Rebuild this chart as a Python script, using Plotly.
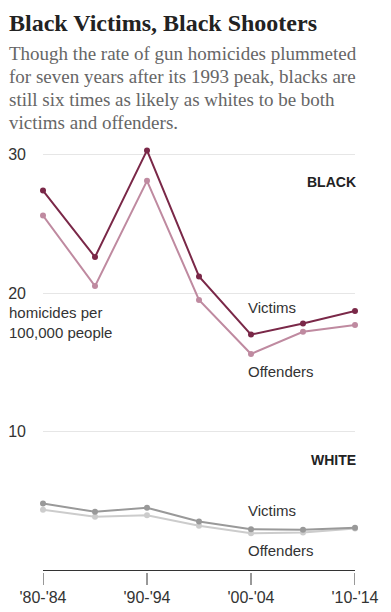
import plotly.graph_objects as go

periods = ["'80-'84", "'85-'89", "'90-'94", "'95-'99", "'00-'04", "'05-'09", "'10-'14"]
tick_labels = ["'80-'84", "'90-'94", "'00-'04", "'10-'14"]
tick_idx = [0, 2, 4, 6]

black_victims = [27.4, 22.6, 30.3, 21.2, 17.0, 17.8, 18.7]
black_offenders = [25.6, 20.5, 28.1, 19.5, 15.6, 17.2, 17.7]
white_victims = [4.8, 4.2, 4.5, 3.5, 2.95, 2.9, 3.05]
white_offenders = [4.35, 3.85, 3.95, 3.2, 2.65, 2.7, 3.0]

C_BV = "#7a2848"
C_BO = "#bf8aa0"
C_WV = "#999999"
C_WO = "#cccccc"

W, H = 391, 612
L, R, T, B = 43, 36, 140, 42
PW, PH = W - L - R, H - T - B

def px(xp):
    return (xp - L) / PW

def py(yp):
    return (H - B - yp) / PH

x = list(range(len(periods)))

fig = go.Figure()
for vals, col in [(white_offenders, C_WO), (white_victims, C_WV),
                  (black_offenders, C_BO), (black_victims, C_BV)]:
    fig.add_trace(go.Scatter(
        x=x, y=vals, mode="lines+markers",
        line=dict(color=col, width=2),
        marker=dict(color=col, size=6),
        cliponaxis=False, hoverinfo="skip", showlegend=False,
    ))

sans = "Liberation Sans, Arial, sans-serif"
serif = "Liberation Serif, Times New Roman, serif"

ann = []
ann.append(dict(text="<b>Black Victims, Black Shooters</b>", x=px(7), y=py(23),
                font=dict(family=serif, size=24, color="#222")))
sub = ["Though the rate of gun homicides plummeted",
       "for seven years after its 1993 peak, blacks are",
       "still six times as likely as whites to be both",
       "victims and offenders."]
for i, line in enumerate(sub):
    ann.append(dict(text=line, x=px(7), y=py(53 + 23 * i),
                    font=dict(family=serif, size=19, color="#666")))
ann.append(dict(text="homicides per<br>100,000 people", x=px(7), y=py(322.5),
                font=dict(family=sans, size=15, color="#333"), align="left"))
for txt, yp in [("Victims", 307.7), ("Offenders", 371), ("Victims", 510), ("Offenders", 550)]:
    ann.append(dict(text=txt, x=px(246), y=py(yp),
                    font=dict(family=sans, size=15, color="#333")))
for txt, yp in [("<b>BLACK</b>", 182), ("<b>WHITE</b>", 460)]:
    ann.append(dict(text=txt, x=px(358), y=py(yp), xanchor="right",
                    font=dict(family=sans, size=14, color="#222")))

annotations = []
for a in ann:
    d = dict(xref="paper", yref="paper", showarrow=False, xanchor="left", yanchor="middle")
    d.update(a)
    annotations.append(d)

shapes = []
for ti in tick_idx:
    shapes.append(dict(type="line", xref="x", yref="paper", ysizemode="pixel", yanchor=0,
                       x0=ti, x1=ti, y0=-3, y1=-15,
                       line=dict(color="#333", width=1)))

fig.update_layout(
    width=W, height=H,
    margin=dict(l=L, r=R, t=T, b=B, autoexpand=False),
    paper_bgcolor="white", plot_bgcolor="white",
    annotations=annotations, shapes=shapes,
    xaxis=dict(range=[0, 6], tickvals=tick_idx, ticktext=tick_labels,
               showgrid=False, zeroline=False, showline=True, linecolor="#333",
               linewidth=1, ticks="", ticklabelstandoff=13, automargin=False,
               tickfont=dict(family=sans, size=16, color="#333"), fixedrange=True),
    yaxis=dict(range=[0, 31.05], tickvals=[10, 20, 30], ticktext=["10", "20", "30"],
               showgrid=True, gridcolor="#e6e6e6", gridwidth=1, zeroline=False,
               showline=False, ticks="", ticklabelstandoff=16, automargin=False,
               tickfont=dict(family=sans, size=16, color="#333"), fixedrange=True),
)

fig.write_html("out.html", config={"displayModeBar": False},
               post_script="document.body.style.margin='0';document.body.style.padding='0';")
